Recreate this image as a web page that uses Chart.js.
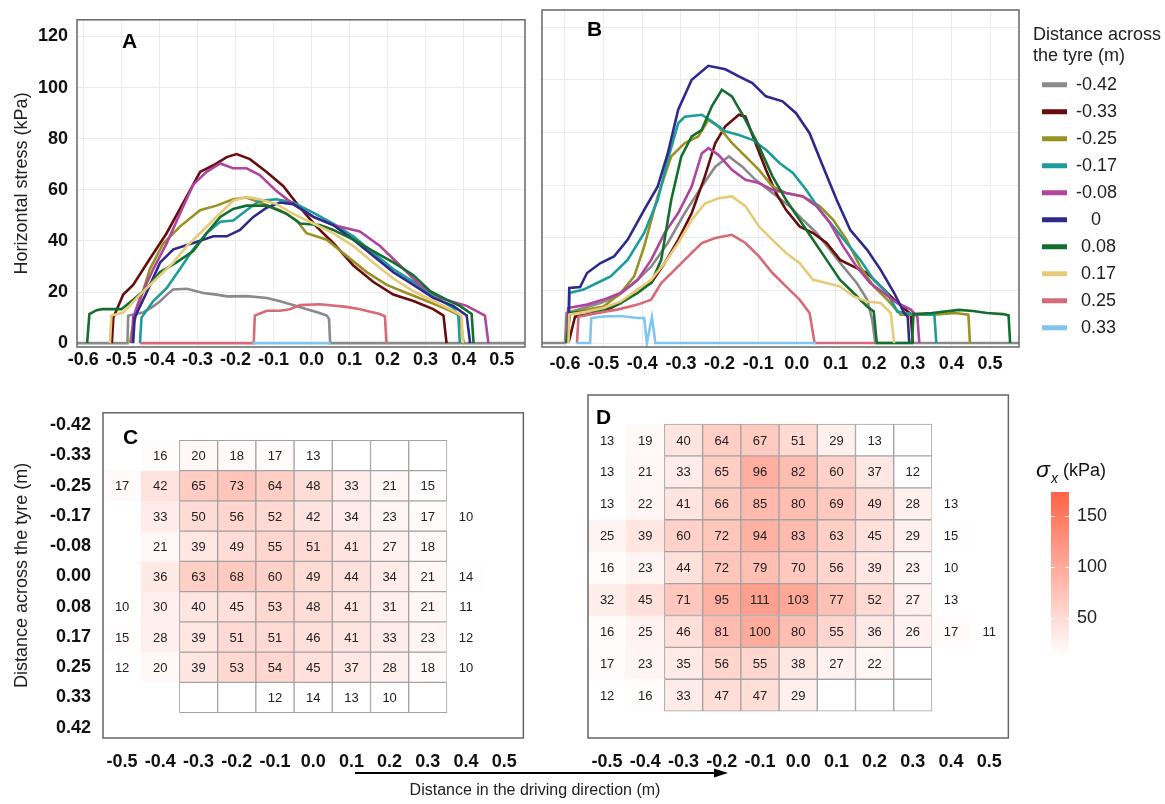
<!DOCTYPE html>
<html lang="en">
<head>
<meta charset="utf-8">
<title>Horizontal stress under the tyre</title>
<script src="https://cdn.jsdelivr.net/npm/chart.js@4.4.1/dist/chart.umd.min.js"></script>
<style>
  html, body { margin: 0; padding: 0; background: #fff; }
  #fig { position: relative; width: 1165px; height: 804px; overflow: hidden;
         font-family: 'Liberation Sans', Arial, sans-serif; }
  #fig canvas { position: absolute; }
  #driveArrow { position: absolute; left: 352px; top: 766px; }
  #driveTitle { position: absolute; left: 335px; top: 781px; width: 400px;
                text-align: center; font-size: 16px; line-height: 18px; color: #222; }
</style>
</head>
<body>
<div id="fig">
  <canvas id="chartA" width="530" height="385" style="left:0;top:0"></canvas>
  <canvas id="chartB" width="505" height="385" style="left:520px;top:0"></canvas>
  <canvas id="legendAB" width="140" height="380" style="left:1025px;top:10px"></canvas>
  <canvas id="chartC" width="530" height="400" style="left:0;top:390px"></canvas>
  <canvas id="chartD" width="455" height="400" style="left:560px;top:390px"></canvas>
  <canvas id="colourbar" width="130" height="220" style="left:1035px;top:455px"></canvas>
  <svg id="driveArrow" width="380" height="14">
    <line x1="3" y1="7" x2="364" y2="7" stroke="#000" stroke-width="2.2"/>
    <polygon points="362,2.5 376,7 362,11.5" fill="#000"/>
  </svg>
  <div id="driveTitle">Distance in the driving direction (m)</div>
</div>

<script>
/* ======================================================
   Horizontal stress under the tyre
   A/B: line profiles, C/D: gridded means, colour bar
====================================================== */

const FONT = "'Liberation Sans', Arial, sans-serif";
Chart.defaults.font.family = FONT;
Chart.defaults.color = '#111';
Chart.defaults.animation = false;

// series (distance across the tyre) and their colours
const acrossLabels = ['-0.42', '-0.33', '-0.25', '-0.17', '-0.08', '0', '0.08', '0.17', '0.25', '0.33'];
const lineColors   = ['#8a8a8a', '#680d0d', '#9a9124', '#1c9c9a', '#b0449e',
                      '#2e2a8c', '#146f2e', '#e6cb78', '#d66a79', '#7fc6ef'];

// ticks
const stressTicks   = [0, 20, 40, 60, 80, 100, 120];
const drivingTicks  = [-0.6, -0.5, -0.4, -0.3, -0.2, -0.1, 0, 0.1, 0.2, 0.3, 0.4, 0.5];
const heatXLabels   = ['-0.5', '-0.4', '-0.3', '-0.2', '-0.1', '0.0', '0.1', '0.2', '0.3', '0.4', '0.5'];
const heatYLabels   = ['-0.42', '-0.33', '-0.25', '-0.17', '-0.08', '0.00', '0.08', '0.17', '0.25', '0.33', '0.42'];
const colourbarTicks = [50, 100, 150];

/* ---------- panel A : [distance (m), stress (kPa)] ---------- */
const a_m042 = [[-0.616,0],[-0.484,0],[-0.482,10.7],[-0.46,11.5],[-0.443,12],[-0.42,14],[-0.398,16.4],[-0.38,19],
  [-0.364,21],[-0.328,21.3],[-0.3,20.2],[-0.285,19.6],[-0.25,19],[-0.222,18.3],[-0.17,18.4],[-0.117,17.7],
  [-0.08,16.3],[-0.049,14.9],[-0.01,13.2],[0.017,12],[0.04,10.8],[0.046,9.5],[0.049,0],[0.561,0]];
const a_m033 = [[-0.525,0],[-0.521,10],[-0.495,19],[-0.469,22.8],[-0.425,33],[-0.381,43],[-0.337,55],[-0.293,67],
  [-0.258,69.6],[-0.223,72.8],[-0.197,74],[-0.162,72],[-0.118,67],[-0.074,61.4],[-0.03,53],[0.013,45.6],
  [0.057,39.2],[0.11,30.4],[0.162,24],[0.215,19],[0.268,16.5],[0.32,13.3],[0.347,10.8],[0.355,0]];
const a_m025 = [[-0.477,0],[-0.472,5],[-0.451,16.5],[-0.425,29],[-0.39,39],[-0.346,45.6],[-0.293,52],[-0.25,53.8],
  [-0.206,56.3],[-0.171,57],[-0.136,55],[-0.083,52],[-0.039,48],[-0.013,43],[0.04,40.5],[0.092,34.2],
  [0.145,27.8],[0.198,22.8],[0.25,19.6],[0.303,16.5],[0.355,13.3],[0.39,10.8],[0.4,0]];
const a_m017 = [[-0.451,0],[-0.447,10],[-0.416,16.5],[-0.381,21.5],[-0.346,29],[-0.311,36.7],[-0.276,43],[-0.24,47.5],
  [-0.206,48],[-0.171,52],[-0.136,55.7],[-0.092,56.3],[-0.048,55],[0.005,51],[0.057,46.8],[0.11,41.8],
  [0.162,35.4],[0.215,29],[0.268,24],[0.32,18.4],[0.372,13.9],[0.386,10.8],[0.39,0]];
const a_m008 = [[-0.473,0],[-0.469,10],[-0.451,17.7],[-0.416,29],[-0.381,39],[-0.346,50.6],[-0.311,62],[-0.276,67],
  [-0.24,70.3],[-0.206,68.4],[-0.171,68.4],[-0.136,65.8],[-0.092,59.5],[-0.048,54.4],[0.005,49.4],[0.057,46.2],
  [0.127,43.7],[0.18,38],[0.233,30.4],[0.285,22.8],[0.338,17.7],[0.408,14.6],[0.456,10.8],[0.465,0]];
const a_zero = [[-0.469,0],[-0.465,10],[-0.433,20],[-0.398,31.6],[-0.363,36.7],[-0.311,39.2],[-0.258,41.8],[-0.223,41.8],
  [-0.188,44.3],[-0.153,49.4],[-0.118,53],[-0.083,55],[-0.048,54.4],[0.005,49.4],[0.057,46.2],[0.11,40.5],
  [0.162,34.2],[0.215,27.8],[0.268,22.8],[0.32,17.7],[0.372,14.6],[0.408,10.8],[0.417,0]];
const a_p008 = [[-0.59,0],[-0.584,11.4],[-0.565,12.9],[-0.55,13.3],[-0.5,13.3],[-0.469,17],[-0.433,21.5],[-0.398,27.8],
  [-0.355,31.6],[-0.311,36],[-0.276,43],[-0.24,49.4],[-0.206,52.5],[-0.171,53.8],[-0.118,53.8],[-0.065,50.6],
  [-0.03,46.8],[0.022,46.2],[0.057,44.3],[0.11,40.5],[0.162,36],[0.215,31.6],[0.268,26.6],[0.312,20.3],
  [0.355,17],[0.39,14.6],[0.421,11.4],[0.426,0]];
const a_p017 = [[-0.53,0],[-0.526,10.8],[-0.495,12],[-0.451,19],[-0.407,25.3],[-0.363,31.6],[-0.328,38],[-0.293,43],
  [-0.25,49.4],[-0.206,55.7],[-0.171,57.2],[-0.136,56.3],[-0.092,54.4],[-0.048,50.6],[0.005,46.8],[0.057,43],
  [0.11,38],[0.162,31.6],[0.215,25.3],[0.268,20.3],[0.32,16.5],[0.372,12.7],[0.394,10.8],[0.398,0]];
const a_p025 = [[-0.451,0],[-0.152,0],[-0.149,10.8],[-0.118,12.7],[-0.083,12.7],[-0.057,13.3],[-0.03,14.9],[0.022,15.2],
  [0.092,14.2],[0.127,13.3],[0.18,11.4],[0.193,10.5],[0.197,0]];
const a_p033 = [[-0.155,0],[0.05,0]];

/* ---------- panel B ---------- */
const b_m042 = [[-0.66,0],[-0.6,0],[-0.596,11.4],[-0.552,13.3],[-0.508,15.2],[-0.465,17.7],[-0.421,22.8],[-0.377,29],
  [-0.334,38],[-0.29,49.4],[-0.246,59.5],[-0.211,67],[-0.176,70.9],[-0.141,67],[-0.107,62],[-0.063,57],
  [-0.019,52],[0.016,46.8],[0.051,41.8],[0.086,35.4],[0.12,29],[0.155,22.8],[0.182,16.5],[0.195,8.9],
  [0.203,0],[0.575,0]];
const b_m033 = [[-0.591,0],[-0.574,10],[-0.543,10.8],[-0.5,12],[-0.456,15.2],[-0.412,20.3],[-0.377,22.8],[-0.342,30.4],
  [-0.307,39.2],[-0.272,49.4],[-0.238,63.3],[-0.211,76],[-0.185,82.3],[-0.15,86.7],[-0.133,86],[-0.107,76],
  [-0.08,65.8],[-0.054,57],[-0.028,50.6],[0.007,44.3],[0.042,41.8],[0.077,38],[0.112,31.6],[0.147,29],
  [0.182,26.6],[0.217,21.5],[0.252,16.5],[0.287,12],[0.295,11],[0.3,0]];
const b_m025 = [[-0.596,0],[-0.592,11.4],[-0.543,12.7],[-0.5,13.9],[-0.456,19],[-0.421,25.3],[-0.395,36.7],[-0.36,55.7],
  [-0.325,70.9],[-0.29,76],[-0.255,78.5],[-0.229,84.8],[-0.203,82.3],[-0.168,76],[-0.133,70.9],[-0.098,65.8],
  [-0.063,59.5],[-0.028,57],[0.016,55.7],[0.059,52],[0.094,46.8],[0.129,39.2],[0.164,29],[0.199,21.5],
  [0.234,16.5],[0.269,10.8],[0.304,10.8],[0.356,10.8],[0.409,11.4],[0.444,10.8],[0.448,0]];
const b_m017 = [[-0.591,0],[-0.589,19],[-0.552,20.3],[-0.517,22.8],[-0.482,25.3],[-0.438,31.6],[-0.395,41.8],[-0.36,54.4],
  [-0.334,69.6],[-0.307,83.5],[-0.29,86],[-0.246,86.7],[-0.22,84.2],[-0.185,80.4],[-0.15,79],[-0.115,77.2],
  [-0.08,73.4],[-0.045,68.4],[-0.01,64.6],[0.024,58.2],[0.059,50.6],[0.094,44.3],[0.129,38],[0.164,31.6],
  [0.199,24],[0.234,19],[0.26,12],[0.3,11],[0.356,10.8],[0.361,0]];
const b_m008 = [[-0.596,0],[-0.592,13.3],[-0.543,14.6],[-0.5,16.5],[-0.456,19],[-0.412,24],[-0.377,31.6],[-0.342,41.8],
  [-0.307,49.4],[-0.272,59.5],[-0.246,72],[-0.229,74],[-0.203,71.5],[-0.168,65.8],[-0.133,62],[-0.098,60.8],
  [-0.063,58.2],[-0.028,57],[0.016,55.7],[0.051,52],[0.086,45.6],[0.12,36.7],[0.155,29],[0.19,22.8],
  [0.225,19],[0.26,15.2],[0.295,12.7],[0.312,10],[0.317,0]];
const b_zero = [[-0.591,0],[-0.589,20.9],[-0.561,21.3],[-0.543,26.6],[-0.508,30.4],[-0.473,32.9],[-0.438,39.2],[-0.395,50.6],
  [-0.36,59.5],[-0.334,72],[-0.307,88.6],[-0.272,100],[-0.229,105.3],[-0.185,104],[-0.15,101.3],[-0.115,98.7],
  [-0.08,93.7],[-0.037,91.8],[-0.002,87.3],[0.033,79.7],[0.068,67],[0.103,54.4],[0.138,43],[0.182,35.4],
  [0.217,27.8],[0.252,19],[0.278,11.4],[0.287,10],[0.291,0]];
const b_p008 = [[-0.596,0],[-0.587,11.4],[-0.543,12],[-0.5,12.7],[-0.456,15.2],[-0.412,19],[-0.377,22.8],[-0.351,31.6],
  [-0.325,54.4],[-0.299,70.9],[-0.272,78.5],[-0.246,81],[-0.22,89.9],[-0.194,96.2],[-0.168,93.7],[-0.133,84.8],
  [-0.098,74.7],[-0.063,63.3],[-0.028,54.4],[0.007,46.8],[0.042,39.2],[0.077,31.6],[0.112,24],[0.147,19],
  [0.182,13.9],[0.199,12],[0.207,0],[0.298,0],[0.302,11],[0.35,11.4],[0.42,12.6],[0.456,12.2],[0.492,11.4],
  [0.534,11],[0.548,10.5],[0.552,0]];
const b_p017 = [[-0.591,0],[-0.589,10.8],[-0.543,12],[-0.5,13.3],[-0.456,15.8],[-0.412,20.3],[-0.377,24],[-0.342,30.4],
  [-0.307,38],[-0.272,46.8],[-0.238,53],[-0.203,55],[-0.168,55.7],[-0.133,52],[-0.098,44.3],[-0.063,39.2],
  [-0.028,34.2],[0.007,30.4],[0.042,24],[0.077,22.8],[0.112,21.5],[0.147,17.7],[0.182,15.8],[0.217,15.2],
  [0.243,11.4],[0.252,0]];
const b_p025 = [[-0.569,0],[-0.565,10],[-0.517,11.4],[-0.465,12.7],[-0.412,14.6],[-0.377,16.5],[-0.351,22.8],[-0.316,27.8],
  [-0.281,32.9],[-0.246,38],[-0.211,39.9],[-0.168,41.1],[-0.133,38],[-0.098,32.9],[-0.063,26.6],[-0.028,21.5],
  [0.007,16.5],[0.033,11.4],[0.046,0],[0.2,0]];
const b_p033 = [[-0.57,0],[-0.535,0],[-0.532,9.5],[-0.5,10.1],[-0.456,10.3],[-0.412,9.5],[-0.395,9.5],[-0.388,0],
  [-0.375,9.8],[-0.366,0],[0.05,0]];

/* ---------- panels C / D : mean stress (kPa) per cell, row = across, col = driving ---------- */
const heatC = [
  [null, null, null, null, null, null, null, null, null, null, null],
  [null, 16, 20, 18, 17, 13, null, null, null, null, null],
  [17, 42, 65, 73, 64, 48, 33, 21, 15, null, null],
  [null, 33, 50, 56, 52, 42, 34, 23, 17, 10, null],
  [null, 21, 39, 49, 55, 51, 41, 27, 18, null, null],
  [null, 36, 63, 68, 60, 49, 44, 34, 21, 14, null],
  [10, 30, 40, 45, 53, 48, 41, 31, 21, 11, null],
  [15, 28, 39, 51, 51, 46, 41, 33, 23, 12, null],
  [12, 20, 39, 53, 54, 45, 37, 28, 18, 10, null],
  [null, null, null, null, 12, 14, 13, 10, null, null, null],
  [null, null, null, null, null, null, null, null, null, null, null]
];
const heatD = [
  [null, null, null, null, null, null, null, null, null, null, null],
  [13, 19, 40, 64, 67, 51, 29, 13, null, null, null],
  [13, 21, 33, 65, 96, 82, 60, 37, 12, null, null],
  [13, 22, 41, 66, 85, 80, 69, 49, 28, 13, null],
  [25, 39, 60, 72, 94, 83, 63, 45, 29, 15, null],
  [16, 23, 44, 72, 79, 70, 56, 39, 23, 10, null],
  [32, 45, 71, 95, 111, 103, 77, 52, 27, 13, null],
  [16, 25, 46, 81, 100, 80, 55, 36, 26, 17, 11],
  [17, 23, 35, 56, 55, 38, 27, 22, null, null, null],
  [12, 16, 33, 47, 47, 29, null, null, null, null, null],
  [null, null, null, null, null, null, null, null, null, null, null]
];
// tyre footprint outlined in C and D (row / column index ranges)
const footprintRows = [1, 9];
const footprintCols = [2, 8];

// colour scale
const colourMin = 13;
const colourMax = 174;
const colourLow  = [255, 255, 255];
const colourHigh = [255, 99, 71];

function heatColour(v) {
  const t = Math.max(0, Math.min(1, (v - colourMin) / (colourMax - colourMin)));
  const c = colourLow.map((lo, i) => Math.round(lo + (colourHigh[i] - lo) * t));
  return `rgb(${c.join(',')})`;
}

/* ---------- plugins ---------- */
const panelFrame = {
  id: 'panelFrame',
  afterDraw(chart) {
    const { ctx, chartArea: a } = chart;
    ctx.save();
    ctx.strokeStyle = '#666';
    ctx.lineWidth = 1.5;
    ctx.strokeRect(a.left, a.top, a.right - a.left, a.bottom - a.top);
    ctx.restore();
  }
};

const panelTag = {
  id: 'panelTag',
  afterDraw(chart, args, opts) {
    if (!opts.text) return;
    const { ctx, chartArea: a } = chart;
    ctx.save();
    ctx.font = `bold 21px ${FONT}`;
    ctx.fillStyle = '#000';
    ctx.textBaseline = 'middle';
    ctx.fillText(opts.text, a.left + opts.dx, a.top + opts.dy);
    ctx.restore();
  }
};

const cellLabels = {
  id: 'cellLabels',
  afterDatasetsDraw(chart) {
    const { ctx } = chart;
    ctx.save();
    ctx.font = `13px ${FONT}`;
    ctx.fillStyle = '#222';
    ctx.textAlign = 'center';
    ctx.textBaseline = 'middle';
    chart.data.datasets.forEach((ds, r) => {
      const meta = chart.getDatasetMeta(r);
      ds.values.forEach((v, c) => {
        if (v == null) return;
        const bar = meta.data[c];
        ctx.fillText(String(v), bar.x, (bar.y + bar.base) / 2 + 1);
      });
    });
    ctx.restore();
  }
};

const colourbarDecor = {
  id: 'colourbarDecor',
  afterDraw(chart) {
    const { ctx, chartArea: a, scales: { y } } = chart;
    ctx.save();
    ctx.strokeStyle = '#fff';
    ctx.lineWidth = 1;
    colourbarTicks.forEach(v => {
      const py = Math.round(y.getPixelForValue(v)) + 0.5;
      ctx.beginPath();
      ctx.moveTo(a.left, py); ctx.lineTo(a.left + 4, py);
      ctx.moveTo(a.right - 4, py); ctx.lineTo(a.right, py);
      ctx.stroke();
    });
    ctx.fillStyle = '#111';
    ctx.textBaseline = 'alphabetic';
    ctx.font = `italic 23px ${FONT}`;
    ctx.fillText('σ', 1, 22);
    ctx.font = `italic 14px ${FONT}`;
    ctx.fillText('x', 16, 28);
    ctx.font = `18px ${FONT}`;
    ctx.fillText('(kPa)', 28, 21);
    ctx.restore();
  }
};

/* ---------- renderers ---------- */
function renderLinePanel(canvas, series, opts) {

  const datasets = series.map((pts, i) => ({
    label: acrossLabels[i],
    data: pts.map(([x, y]) => ({ x, y })),
    borderColor: lineColors[i],
    backgroundColor: lineColors[i],
    borderWidth: 2.6,
    pointRadius: 0,
    tension: 0,
    order: series.length - i
  }));

  return new Chart(canvas, {
    type: 'line',
    data: { datasets },
    plugins: [panelFrame, panelTag],
    options: {
      responsive: false,
      animation: false,
      layout: { padding: opts.padding },
      plugins: {
        legend: { display: false },
        tooltip: { enabled: false },
        panelTag: opts.tag
      },
      scales: {
        x: {
          type: 'linear',
          min: opts.xMin,
          max: opts.xMax,
          afterBuildTicks: s => { s.ticks = drivingTicks.map(v => ({ value: v })); },
          ticks: {
            callback: v => v.toFixed(1),
            font: { size: 18, weight: 'bold' },
            color: '#111',
            padding: opts.xPad,
            maxRotation: 0,
            autoSkip: false
          },
          grid: { color: '#ebebeb', drawTicks: false },
          border: { display: false },
          afterFit: s => { s.height = 38; }
        },
        y: {
          min: -1.5,
          max: 126.5,
          afterBuildTicks: s => { s.ticks = stressTicks.map(v => ({ value: v })); },
          ticks: {
            display: opts.showY,
            font: { size: 18, weight: 'bold' },
            color: '#111',
            padding: 9
          },
          grid: { color: '#ebebeb', drawTicks: false },
          border: { display: false },
          title: {
            display: opts.showY,
            text: 'Horizontal stress (kPa)',
            font: { size: 18 },
            color: '#222',
            padding: { top: 11, bottom: 0 }
          },
          afterFit: s => { s.width = opts.yWidth; }
        }
      }
    }
  });
}

function renderHeatPanel(canvas, rows, opts) {

  const inGrid = (r, c) =>
    r >= footprintRows[0] && r <= footprintRows[1] &&
    c >= footprintCols[0] && c <= footprintCols[1];

  const datasets = rows.map((row, r) => ({
    values: row,
    data: row.map((v, c) => (v != null || inGrid(r, c)) ? [r - 0.5, r + 0.5] : null),
    backgroundColor: row.map(v => v == null ? '#ffffff' : heatColour(v)),
    borderColor: row.map((v, c) => inGrid(r, c) ? '#a3a3a3' : 'rgba(0,0,0,0)'),
    borderWidth: row.map((v, c) => inGrid(r, c) ? 1 : 0),
    borderSkipped: false,
    grouped: false,
    barPercentage: 1,
    categoryPercentage: 1
  }));

  return new Chart(canvas, {
    type: 'bar',
    data: { labels: heatXLabels, datasets },
    plugins: [cellLabels, panelFrame, panelTag],
    options: {
      responsive: false,
      animation: false,
      layout: { padding: opts.padding },
      plugins: {
        legend: { display: false },
        tooltip: { enabled: false },
        panelTag: opts.tag
      },
      scales: {
        x: {
          type: 'category',
          offset: true,
          grid: { display: false, drawTicks: false },
          border: { display: false },
          ticks: {
            font: { size: 18, weight: 'bold' },
            color: '#111',
            padding: 13,
            maxRotation: 0,
            autoSkip: false
          },
          afterFit: s => { s.height = 52; }
        },
        y: {
          type: 'linear',
          display: opts.showY,
          reverse: true,
          min: -0.41,
          max: 10.34,
          afterBuildTicks: s => { s.ticks = heatYLabels.map((_, i) => ({ value: i })); },
          ticks: {
            callback: v => heatYLabels[v],
            font: { size: 18, weight: 'bold' },
            color: '#111',
            padding: 12
          },
          grid: { display: false, drawTicks: false },
          border: { display: false },
          title: {
            display: true,
            text: 'Distance across the tyre (m)',
            font: { size: 18 },
            color: '#222',
            padding: { top: 11, bottom: 0 }
          },
          afterFit: s => { s.width = opts.showY ? 103 : 0; }
        }
      }
    }
  });
}

/* ---------- build ---------- */
renderLinePanel(document.getElementById('chartA'),
  [a_m042, a_m033, a_m025, a_m017, a_m008, a_zero, a_p008, a_p017, a_p025, a_p033],
  { xMin: -0.6166, xMax: 0.5613, yWidth: 77, showY: true, xPad: 2,
    padding: { top: 10, right: 5, left: 0, bottom: 0 },
    tag: { text: 'A', dx: 45, dy: 22 } });

renderLinePanel(document.getElementById('chartB'),
  [b_m042, b_m033, b_m025, b_m017, b_m008, b_zero, b_p008, b_p017, b_p025, b_p033],
  { xMin: -0.6595, xMax: 0.575, yWidth: 22, showY: false, xPad: 6,
    padding: { top: 10, right: 6, left: 0, bottom: 0 },
    tag: { text: 'B', dx: 45, dy: 20 } });

// shared legend for A and B (one item per row, full-width box so nothing is clipped)
new Chart(document.getElementById('legendAB'), {
  type: 'line',
  data: {
    datasets: acrossLabels.map((lab, i) => ({
      label: lab,
      data: [],
      borderColor: lineColors[i],
      backgroundColor: lineColors[i],
      borderWidth: 0
    }))
  },
  options: {
    responsive: false,
    animation: false,
    layout: { padding: { left: 8, top: 0 } },
    scales: { x: { display: false }, y: { display: false } },
    plugins: {
      tooltip: { enabled: false },
      legend: {
        position: 'top',
        align: 'start',
        maxHeight: 380,
        title: {
          display: true,
          text: ['Distance across', 'the tyre (m)'],
          position: 'start',
          color: '#222',
          font: { size: 18, lineHeight: 1.15 },
          padding: { top: 16, bottom: 20 }
        },
        labels: {
          boxWidth: 25,
          boxHeight: 5,
          padding: 9,
          color: '#222',
          font: { size: 18 },
          generateLabels: chart =>
            Chart.defaults.plugins.legend.labels.generateLabels(chart).map(item => ({
              ...item,
              text: item.text === '0' ? '   0' : (item.text.startsWith('-') ? item.text : ' ' + item.text)
            }))
        }
      }
    }
  }
});

renderHeatPanel(document.getElementById('chartC'), heatC,
  { showY: true, padding: { top: 5, right: 5, left: 0, bottom: 0 },
    tag: { text: 'C', dx: 20, dy: 25 } });

renderHeatPanel(document.getElementById('chartD'), heatD,
  { showY: false, padding: { top: 5, right: 5, left: 28, bottom: 0 },
    tag: { text: 'D', dx: 8, dy: 23 } });

// colour bar for C and D
new Chart(document.getElementById('colourbar'), {
  type: 'bar',
  data: {
    labels: [''],
    datasets: [{
      data: [[colourMin, colourMax]],
      backgroundColor: context => {
        const { chart } = context;
        const a = chart.chartArea;
        if (!a) return heatColour(colourMax);
        const g = chart.ctx.createLinearGradient(0, a.bottom, 0, a.top);
        [0, 0.25, 0.5, 0.75, 1].forEach(t =>
          g.addColorStop(t, heatColour(colourMin + t * (colourMax - colourMin))));
        return g;
      },
      borderWidth: 0,
      barPercentage: 1,
      categoryPercentage: 1
    }]
  },
  plugins: [colourbarDecor],
  options: {
    responsive: false,
    animation: false,
    layout: { padding: { left: 16, top: 37, right: 0, bottom: 13 } },
    plugins: { legend: { display: false }, tooltip: { enabled: false } },
    scales: {
      x: { display: false },
      y: {
        position: 'right',
        min: colourMin,
        max: colourMax,
        afterBuildTicks: s => { s.ticks = colourbarTicks.map(v => ({ value: v })); },
        ticks: { font: { size: 18 }, color: '#222', padding: 8 },
        grid: { display: false, drawTicks: false },
        border: { display: false },
        afterFit: s => { s.width = 96; }
      }
    }
  }
});
</script>
</body>
</html>
